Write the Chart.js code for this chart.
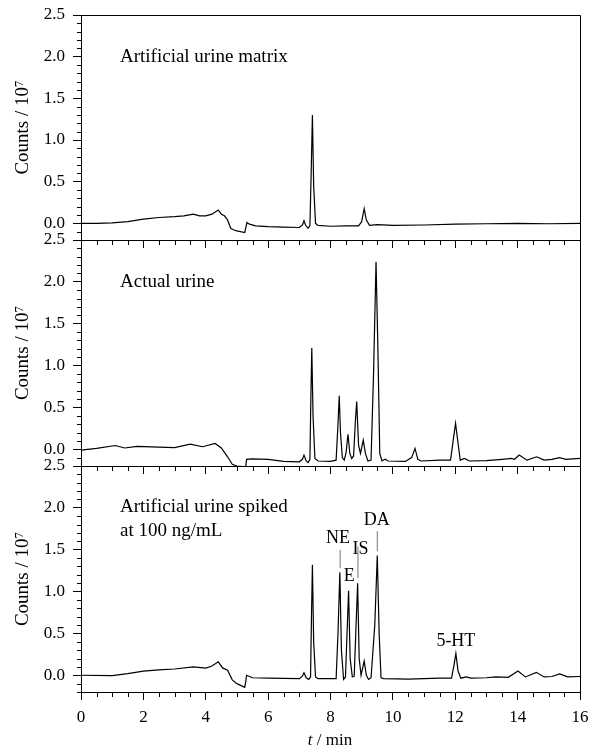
<!DOCTYPE html>
<html>
<head>
<meta charset="utf-8">
<script src="https://cdn.jsdelivr.net/npm/chart.js@4.4.1/dist/chart.umd.min.js"></script>
<style>
  body { margin: 0; background: #fff; }
  #wrap { position: relative; width: 590px; height: 753px; }
  canvas { position: absolute; left: 0; }
  #xtitle { position: absolute; top: 729px; left: 230px; width: 200px; text-align: center;
            font: 17px "Liberation Serif", "Times New Roman", serif; line-height: 22px; color: #000; }
</style>
</head>
<body>
<div id="wrap">
  <canvas id="panel1" width="590" height="252" style="top:0px"></canvas>
  <canvas id="panel2" width="590" height="250" style="top:228px"></canvas>
  <canvas id="panel3" width="590" height="299" style="top:454px"></canvas>
  <div id="xtitle"><i>t</i> / min</div>
</div>
<script>
// axis ticks
const ticksX = [0, 2, 4, 6, 8, 10, 12, 14, 16];
const ticksY = [0, 0.5, 1, 1.5, 2, 2.5];
const minorStepX = 0.5;
const minorStepY = 0.1;

// Artificial urine matrix
const matrixTime = [0, 0.5, 1.0, 1.5, 2.0, 2.5, 3.0, 3.3, 3.6, 3.8, 4.0, 4.2, 4.4, 4.5, 4.6, 4.7, 4.8, 4.9, 5.0, 5.25, 5.28, 5.32, 5.4, 5.6, 6.0, 6.5, 7.0, 7.1, 7.15, 7.2, 7.28, 7.34, 7.38, 7.42, 7.46, 7.52, 7.6, 8.0, 8.5, 8.9, 9.0, 9.08, 9.15, 9.25, 9.5, 10, 11, 12, 13, 14, 15, 16];
const matrixCounts = [0, 0, 0.005, 0.02, 0.05, 0.07, 0.08, 0.09, 0.11, 0.09, 0.09, 0.11, 0.16, 0.11, 0.09, 0.04, -0.06, -0.08, -0.09, -0.11, -0.06, 0.01, -0.01, -0.03, -0.04, -0.045, -0.05, -0.02, 0.03, -0.02, -0.06, -0.03, 0.6, 1.30, 0.45, 0.0, -0.025, -0.035, -0.03, -0.03, 0.02, 0.175, 0.04, -0.025, -0.015, -0.025, -0.02, -0.01, -0.005, 0.0, -0.005, 0.0];

// Actual urine
const urineTime = [0, 0.5, 1.1, 1.4, 1.8, 2.5, 3.0, 3.5, 3.9, 4.3, 4.5, 4.7, 4.85, 5.0, 5.28, 5.31, 5.5, 6.0, 6.5, 7.0, 7.1, 7.15, 7.22, 7.28, 7.34, 7.37, 7.40, 7.44, 7.5, 7.6, 8.0, 8.18, 8.24, 8.28, 8.32, 8.38, 8.44, 8.5, 8.56, 8.62, 8.68, 8.74, 8.8, 8.84, 8.9, 8.96, 9.05, 9.12, 9.2, 9.3, 9.38, 9.46, 9.52, 9.58, 9.65, 9.75, 9.85, 10.4, 10.6, 10.71, 10.8, 10.9, 11.5, 11.85, 11.95, 12.01, 12.08, 12.16, 12.3, 12.45, 13.0, 13.5, 13.8, 13.9, 14.05, 14.3, 14.61, 14.85, 15.1, 15.34, 15.55, 16];
const urineCounts = [-0.01, 0.01, 0.045, 0.015, 0.035, 0.025, 0.02, 0.06, 0.03, 0.07, 0.015, -0.09, -0.18, -0.2, -0.21, -0.12, -0.115, -0.12, -0.145, -0.15, -0.12, -0.07, -0.14, -0.16, -0.12, 0.6, 1.21, 0.4, -0.11, -0.14, -0.145, -0.13, 0.3, 0.64, 0.2, -0.1, -0.13, -0.04, 0.18, -0.05, -0.11, -0.08, 0.35, 0.57, 0.05, -0.05, 0.11, -0.05, -0.14, -0.13, 0.9, 2.24, 1.2, -0.05, -0.14, -0.12, -0.14, -0.145, -0.1, 0.01, -0.12, -0.14, -0.13, -0.13, 0.15, 0.31, 0.1, -0.13, -0.11, -0.14, -0.135, -0.12, -0.11, -0.12, -0.07, -0.13, -0.09, -0.13, -0.12, -0.1, -0.12, -0.11];

// Artificial urine spiked at 100 ng/mL
const spikedTime = [0, 1.0, 1.5, 2.0, 2.5, 3.0, 3.6, 4.0, 4.2, 4.4, 4.55, 4.7, 4.85, 5.0, 5.25, 5.28, 5.31, 5.5, 6.0, 7.0, 7.1, 7.15, 7.22, 7.3, 7.36, 7.39, 7.42, 7.46, 7.52, 7.6, 8.0, 8.18, 8.24, 8.30, 8.35, 8.42, 8.48, 8.53, 8.58, 8.63, 8.7, 8.76, 8.82, 8.87, 8.92, 8.98, 9.08, 9.15, 9.22, 9.3, 9.42, 9.50, 9.56, 9.62, 9.7, 10.5, 11.5, 11.88, 11.96, 12.02, 12.09, 12.18, 12.35, 12.5, 13.0, 13.3, 13.7, 14.01, 14.25, 14.6, 14.85, 15.1, 15.35, 15.6, 16];
const spikedCounts = [0, -0.005, 0.02, 0.05, 0.065, 0.075, 0.1, 0.085, 0.11, 0.16, 0.085, 0.06, -0.055, -0.1, -0.145, -0.08, 0.0, -0.03, -0.035, -0.04, -0.01, 0.03, -0.03, -0.05, -0.02, 0.7, 1.32, 0.4, -0.02, -0.04, -0.04, -0.04, 0.5, 1.23, 0.3, -0.05, -0.02, 0.5, 1.01, 0.2, -0.02, -0.01, 0.6, 1.10, 0.2, 0.0, 0.17, 0.0, -0.05, -0.03, 0.6, 1.43, 0.5, -0.03, -0.04, -0.045, -0.035, -0.035, 0.12, 0.26, 0.05, -0.035, -0.02, -0.035, -0.03, -0.02, -0.025, 0.05, -0.02, 0.035, -0.02, -0.015, 0.015, -0.02, -0.015];

// peak marker lines in the spiked run (NE, IS, DA)
const leaderTime = [8.31, 8.88, 9.5];
const leaderLow = [1.28, 1.16, 1.48];
const leaderHigh = [1.50, 1.54, 1.72];

const serif = '"Liberation Serif", "Times New Roman", serif';
const font = { family: serif, size: 17 };

// frame (top/right), minor ticks and in-plot text
const framePlugin = {
    id: 'frame',
    afterDraw(chart, args, opts) {
        const { ctx, chartArea: a, scales: { x, y } } = chart;
        ctx.save();
        ctx.strokeStyle = '#000';
        ctx.lineWidth = 1;
        ctx.beginPath();
        const top = Math.round(a.top) + 0.5;
        const right = Math.round(a.right) + 0.5;
        const bottom = Math.round(a.bottom);
        const left = Math.round(a.left);
        ctx.moveTo(left, top);
        ctx.lineTo(right, top);
        ctx.lineTo(right, bottom + 1);
        for (let v = x.min; v <= x.max + 1e-9; v += minorStepX) {
            if (ticksX.includes(v)) continue;
            const px = Math.round(x.getPixelForValue(v)) + 0.5;
            ctx.moveTo(px, bottom);
            ctx.lineTo(px, bottom + 5);
        }
        for (let i = 0; i <= Math.round((y.max - y.min) / minorStepY); i++) {
            const v = Math.round((y.min + i * minorStepY) * 10) / 10;
            if (ticksY.includes(v)) continue;
            const py = Math.round(y.getPixelForValue(v)) + 0.5;
            ctx.moveTo(left - 4, py);
            ctx.lineTo(left, py);
        }
        ctx.stroke();

        ctx.fillStyle = '#000';
        ctx.textBaseline = 'middle';
        (opts.labels || []).forEach(l => {
            ctx.font = (l.size || 19) + 'px ' + serif;
            ctx.textAlign = l.align || 'left';
            ctx.fillText(l.text, x.getPixelForValue(l.t), y.getPixelForValue(l.y));
        });
        ctx.restore();
    }
};

function makePanel(id, time, counts, cfg) {
    const datasets = [{
        data: time.map((t, i) => ({ x: t, y: counts[i] })),
        borderColor: '#000',
        borderWidth: 1.2,
        pointRadius: 0,
        tension: 0
    }];
    (cfg.leaders ? leaderTime : []).forEach((t, i) => {
        datasets.push({
            data: [{ x: t, y: leaderLow[i] }, { x: t, y: leaderHigh[i] }],
            borderColor: '#777',
            borderWidth: 1,
            pointRadius: 0
        });
    });

    return new Chart(document.getElementById(id), {
        type: 'line',
        data: { datasets: datasets },
        options: {
            responsive: false,
            animation: false,
            layout: { padding: { top: cfg.top, right: 10, left: 0, bottom: 0 } },
            plugins: {
                legend: { display: false },
                tooltip: { enabled: false },
                frame: { labels: cfg.labels }
            },
            scales: {
                x: {
                    type: 'linear',
                    min: 0,
                    max: 16,
                    afterBuildTicks: axis => { axis.ticks = ticksX.map(v => ({ value: v })); },
                    afterFit: axis => {
                        axis.height = cfg.xHeight;
                        axis.paddingLeft = 0;
                        axis.paddingRight = 0;
                    },
                    grid: { drawOnChartArea: false, tickLength: 8, color: '#000' },
                    border: { color: '#000', width: 1 },
                    ticks: { display: cfg.showX, font: font, color: '#000', maxRotation: 0, padding: 7 }
                },
                y: {
                    min: -0.2,
                    max: 2.5,
                    afterBuildTicks: axis => { axis.ticks = ticksY.map(v => ({ value: v })); },
                    afterFit: axis => {
                        axis.width = 81;
                        axis.paddingTop = 0;
                        axis.paddingBottom = 0;
                    },
                    grid: { drawOnChartArea: false, tickLength: 8, color: '#000' },
                    border: { color: '#000', width: 1 },
                    ticks: { font: font, color: '#000', padding: 8, callback: v => v.toFixed(1) },
                    title: { display: true, text: 'Counts / 10\u2077', font: { family: serif, size: 19 }, color: '#000', padding: { top: 12, bottom: 0 } }
                }
            }
        },
        plugins: [framePlugin]
    });
}

makePanel('panel1', matrixTime, matrixCounts, {
    top: 15, xHeight: 12, showX: false,
    labels: [{ text: 'Artificial urine matrix', t: 1.25, y: 2.0 }]
});

makePanel('panel2', urineTime, urineCounts, {
    top: 12, xHeight: 12, showX: false,
    labels: [{ text: 'Actual urine', t: 1.25, y: 2.0 }]
});

makePanel('panel3', spikedTime, spikedCounts, {
    top: 12, xHeight: 61, showX: true, leaders: true,
    labels: [
        { text: 'Artificial urine spiked', t: 1.25, y: 2.01 },
        { text: 'at 100 ng/mL', t: 1.25, y: 1.72 },
        { text: 'NE', t: 8.24, y: 1.64, align: 'center', size: 18 },
        { text: 'E', t: 8.6, y: 1.18, align: 'center', size: 18 },
        { text: 'IS', t: 8.96, y: 1.50, align: 'center', size: 18 },
        { text: 'DA', t: 9.48, y: 1.85, align: 'center', size: 18 },
        { text: '5-HT', t: 12.02, y: 0.41, align: 'center', size: 18 }
    ]
});
</script>
</body>
</html>
